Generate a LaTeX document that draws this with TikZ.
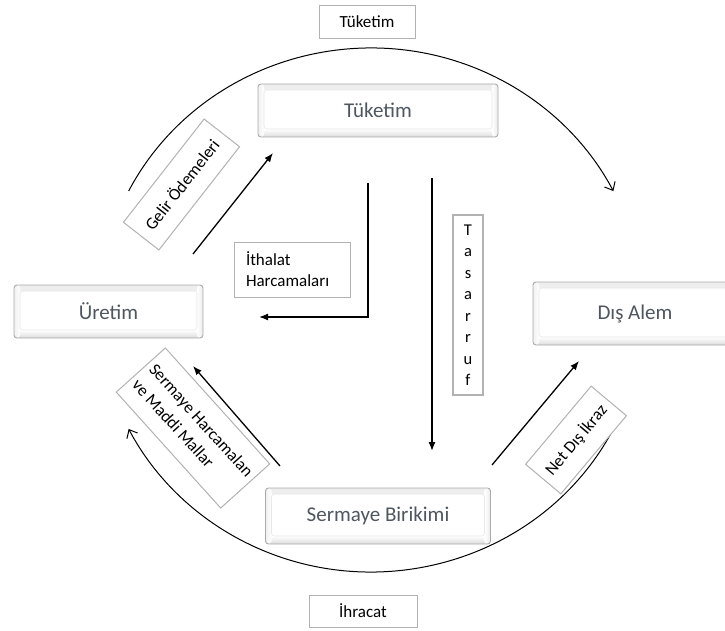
\documentclass[tikz,border=0pt]{standalone}
\usepackage{fontspec}
\setmainfont{Carlito}
\usetikzlibrary{arrows.meta}
\definecolor{txtgray}{RGB}{78,86,96}
\definecolor{bordergray}{RGB}{170,170,170}
\begin{document}
\begin{tikzpicture}[x=1pt,y=-1pt,
  mainbox/.style={rounded corners=3pt, draw=bordergray, line width=0.9pt, fill=white,
    text=txtgray, font=\fontsize{21}{25}\selectfont, inner sep=0pt,
    path picture={
      \shade[top color=gray!14, bottom color=white]
        ([yshift=-6pt]path picture bounding box.north west) rectangle (path picture bounding box.north east);
      \shade[top color=white, bottom color=gray!28]
        (path picture bounding box.south west) rectangle ([yshift=8pt]path picture bounding box.south east);
      \shade[left color=gray!12, right color=white]
        (path picture bounding box.south west) rectangle ([xshift=6pt]path picture bounding box.north west);
      \shade[left color=white, right color=gray!16]
        ([xshift=-6pt]path picture bounding box.south east) rectangle (path picture bounding box.north east);
      \draw[gray!18, line width=0.6pt]
        ([shift={(6pt,8pt)}]path picture bounding box.south west) rectangle ([shift={(-6pt,-6pt)}]path picture bounding box.north east);
    }},
  labelbox/.style={draw=gray!60, line width=1pt, fill=white, font=\fontsize{17}{21}\selectfont, inner sep=2pt},
  flow/.style={line width=1.3pt, -{Latex[length=9pt,width=7pt]}},
  bigarc/.style={line width=1pt, -{Straight Barb[length=7pt,width=12pt]}}
]
\path[use as bounding box] (0,0) rectangle (725,631);
\clip (0,0) rectangle (725,631);

% big arcs
\coordinate (C) at (371,310);
\draw[bigarc] ([shift={(153:272pt and 262pt)}]C) arc[start angle=153, end angle=27, x radius=272pt, y radius=262pt];
\draw[bigarc] ([shift={(-28:272pt and 262pt)}]C) arc[start angle=-28, end angle=-153, x radius=272pt, y radius=262pt];

% main boxes
\node[mainbox, minimum width=240pt, minimum height=53pt] (tuk) at (378,110.5) {Tüketim};
\node[mainbox, minimum width=189pt, minimum height=53pt] (ure) at (108.5,311.5) {Üretim};
\node[mainbox, minimum width=204pt, minimum height=63pt] (dis) at (635,313.5) {Dış Alem};
\node[mainbox, minimum width=225pt, minimum height=56pt] (ser) at (378,516) {Sermaye Birikimi};

% label boxes
\node[labelbox, minimum width=96pt, minimum height=33pt] (tuktop) at (367,22) {Tüketim};
\node[labelbox, minimum width=108pt, minimum height=32pt] (ihr) at (363,611) {İhracat};
\node[labelbox, minimum width=116pt, minimum height=55pt, text width=92pt, align=left, inner xsep=12pt] (ith) at (292,269.5) {İthalat\\Harcamaları};
\node[labelbox, line width=1.6pt, minimum width=30pt, minimum height=180pt, align=center,
      font=\fontsize{16.5}{21.5}\selectfont] (tas) at (468,305) {T\\a\\s\\a\\r\\r\\u\\f};
\node[labelbox, rotate=52, minimum width=131pt, minimum height=45pt] (gel) at (181.5,184.5) {Gelir Ödemeleri};
\node[labelbox, rotate=-48, minimum width=156pt, minimum height=66pt, align=left, inner sep=2pt,
      font=\fontsize{17}{23}\selectfont] (sh) at (193,428) {Sermaye Harcamalan\\ve Maddi Mallar};
\node[labelbox, rotate=50, minimum width=102pt, minimum height=46pt] (net) at (576,440) {Net Dış İkraz};

% straight flows
\coordinate (g1) at (193,254); \coordinate (g2) at (273,153);
\coordinate (i1) at (368,183); \coordinate (i2) at (259,317);
\coordinate (t1) at (432,178); \coordinate (t2) at (432,451);
\coordinate (s1) at (280,466); \coordinate (s2) at (193,366);
\coordinate (n1) at (492,465); \coordinate (n2) at (579,361);
\draw[flow] (g1) -- (g2);
\draw[flow] (i1) |- (i2);
\draw[flow] (t1) -- (t2);
\draw[flow] (s1) -- (s2);
\draw[flow] (n1) -- (n2);
\end{tikzpicture}
\end{document}
